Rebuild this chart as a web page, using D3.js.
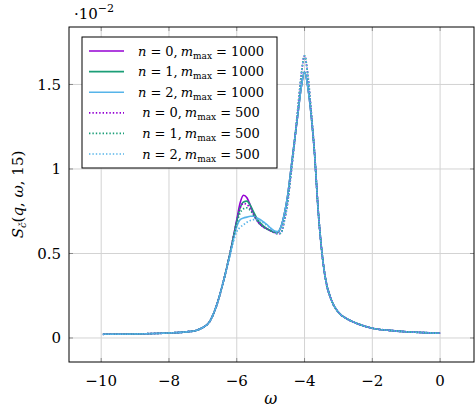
<!DOCTYPE html>
<html><head><meta charset="utf-8">
<script src="https://cdn.jsdelivr.net/npm/d3@7"></script>
<style>
body{margin:0;background:#fff;}
svg text{font-family:"DejaVu Serif","Liberation Serif",serif;fill:#000;}
</style></head>
<body><svg id="c" width="475" height="411"></svg>
<script>
const omega = [-9.95,-9,-8,-7.5,-7.2,-7.0,-6.8,-6.6,-6.4,-6.2,-6.0,-5.9,-5.8,-5.7,-5.6,-5.5,-5.4,-5.3,-5.2,-5.1,-5.0,-4.9,-4.8,-4.7,-4.6,-4.5,-4.4,-4.3,-4.2,-4.1,-4.0,-3.9,-3.8,-3.7,-3.6,-3.5,-3.4,-3.2,-3.0,-2.7,-2.4,-2.0,-1.5,-1.0,-0.5,0];
const n0_m1000 = [0.022,0.024,0.030,0.036,0.045,0.062,0.097,0.19,0.33,0.50,0.70,0.80,0.845,0.83,0.785,0.735,0.695,0.67,0.655,0.645,0.635,0.625,0.625,0.655,0.73,0.84,1.0,1.16,1.32,1.48,1.575,1.48,1.31,1.08,0.76,0.53,0.37,0.22,0.152,0.108,0.082,0.058,0.045,0.037,0.032,0.028];
const n1_m1000 = [0.022,0.024,0.030,0.036,0.045,0.062,0.097,0.19,0.33,0.50,0.69,0.77,0.805,0.81,0.785,0.745,0.705,0.68,0.66,0.645,0.635,0.627,0.627,0.655,0.73,0.84,1.0,1.16,1.32,1.48,1.575,1.48,1.31,1.08,0.76,0.53,0.37,0.22,0.152,0.108,0.082,0.058,0.045,0.037,0.032,0.028];
const n2_m1000 = [0.022,0.024,0.030,0.036,0.045,0.062,0.097,0.19,0.33,0.49,0.66,0.70,0.71,0.715,0.72,0.72,0.71,0.70,0.685,0.67,0.65,0.635,0.63,0.655,0.73,0.84,1.0,1.16,1.32,1.48,1.575,1.48,1.31,1.08,0.76,0.53,0.37,0.22,0.152,0.108,0.082,0.058,0.045,0.037,0.032,0.028];
const n0_m500 = [0.022,0.024,0.030,0.036,0.045,0.062,0.097,0.19,0.33,0.50,0.69,0.77,0.795,0.79,0.765,0.73,0.695,0.67,0.655,0.645,0.635,0.625,0.617,0.62,0.69,0.80,0.97,1.15,1.35,1.55,1.67,1.55,1.33,1.08,0.76,0.53,0.37,0.22,0.152,0.108,0.082,0.058,0.045,0.037,0.032,0.028];
const n1_m500 = [0.022,0.024,0.030,0.036,0.045,0.062,0.097,0.19,0.33,0.50,0.68,0.74,0.765,0.77,0.755,0.725,0.695,0.67,0.655,0.645,0.635,0.625,0.617,0.62,0.69,0.80,0.97,1.15,1.35,1.55,1.67,1.55,1.33,1.08,0.76,0.53,0.37,0.22,0.152,0.108,0.082,0.058,0.045,0.037,0.032,0.028];
const n2_m500 = [0.022,0.024,0.030,0.036,0.045,0.062,0.097,0.19,0.33,0.49,0.63,0.655,0.67,0.685,0.695,0.70,0.70,0.69,0.68,0.665,0.648,0.632,0.62,0.62,0.69,0.80,0.97,1.15,1.35,1.55,1.67,1.55,1.33,1.08,0.76,0.53,0.37,0.22,0.152,0.108,0.082,0.058,0.045,0.037,0.032,0.028];
const seriesN = ["0","1","2","0","1","2"];
const seriesM = ["1000","1000","1000","500","500","500"];
const xTicks = [-10,-8,-6,-4,-2,0];
const yTicks = [0,0.5,1,1.5];
const yTickLabels = ["0","0.5","1","1.5"];

const colors = ["#9400d3","#1b9e77","#56b4e9","#9400d3","#1b9e77","#56b4e9"];
const dotted = [false,false,false,true,true,true];
const allSeries = [n0_m1000,n1_m1000,n2_m1000,n0_m500,n1_m500,n2_m500];

const L=69, R=474, T=27, B=362;
const svg = d3.select("#c");
const x = d3.scaleLinear().domain([-10.95,1.0]).range([L,R]);
const y = d3.scaleLinear().domain([-0.142,1.84]).range([B,T]);

// grid
svg.append("g").selectAll("line").data(xTicks).join("line")
  .attr("x1",d=>x(d)).attr("x2",d=>x(d)).attr("y1",T).attr("y2",B)
  .attr("stroke","#d3d3d3").attr("stroke-width",1);
svg.append("g").selectAll("line").data(yTicks).join("line")
  .attr("y1",d=>y(d)).attr("y2",d=>y(d)).attr("x1",L).attr("x2",R)
  .attr("stroke","#d3d3d3").attr("stroke-width",1);

// tick marks (inside)
const tk = svg.append("g").attr("stroke","#777").attr("stroke-width",0.8);
xTicks.forEach(d=>{
  tk.append("line").attr("x1",x(d)).attr("x2",x(d)).attr("y1",B).attr("y2",B-4);
  tk.append("line").attr("x1",x(d)).attr("x2",x(d)).attr("y1",T).attr("y2",T+4);
});
yTicks.forEach(d=>{
  tk.append("line").attr("y1",y(d)).attr("y2",y(d)).attr("x1",L).attr("x2",L+4);
  tk.append("line").attr("y1",y(d)).attr("y2",y(d)).attr("x1",R).attr("x2",R-4);
});

// lines
svg.append("clipPath").attr("id","pc").append("rect")
  .attr("x",L).attr("y",T).attr("width",R-L).attr("height",B-T);
const line = d3.line().x((d,i)=>x(omega[i])).y(d=>y(d)).curve(d3.curveMonotoneX);
const lg = svg.append("g").attr("clip-path","url(#pc)");
allSeries.forEach((s,i)=>{
  lg.append("path").attr("d",line(s)).attr("fill","none")
    .attr("stroke",colors[i]).attr("stroke-width",dotted[i]?1.7:1.6)
    .attr("stroke-dasharray",dotted[i]?"1.4,2":null)
    .attr("stroke-linejoin","round");
});

// frame
svg.append("rect").attr("x",L).attr("y",T).attr("width",R-L).attr("height",B-T)
  .attr("fill","none").attr("stroke","#000").attr("stroke-width",1);

// tick labels
svg.append("g").selectAll("text").data(xTicks).join("text")
  .attr("x",d=>x(d)).attr("y",B+24).attr("text-anchor","middle")
  .attr("font-size",15).text(d=>d<0?"\u2212"+Math.abs(d):String(d));
svg.append("g").selectAll("text").data(yTicks).join("text")
  .attr("x",L-8).attr("y",d=>y(d)+5.5).attr("text-anchor","end")
  .attr("font-size",15).text((d,i)=>yTickLabels[i]);

// scale factor
const sf = svg.append("text").attr("x",74).attr("y",19).attr("font-size",15);
sf.append("tspan").text("\u00b710");
sf.append("tspan").attr("dy",-7).attr("font-size",11).text("\u22122");

// axis labels
svg.append("text").attr("x",x(-5)).attr("y",404).attr("text-anchor","middle")
  .attr("font-size",16).attr("font-style","italic").text("\u03c9");
const yl = svg.append("text").attr("transform","translate(23,"+((T+B)/2)+") rotate(-90)")
  .attr("text-anchor","middle").attr("font-size",15);
yl.append("tspan").attr("font-style","italic").text("S");
yl.append("tspan").attr("font-style","italic").attr("font-size",10).attr("dy",3).text("\u010d");
yl.append("tspan").attr("dy",-3).text("(");
yl.append("tspan").attr("font-style","italic").text("q");
yl.append("tspan").text(", ");
yl.append("tspan").attr("font-style","italic").text("\u03c9");
yl.append("tspan").text(", 15)");

// legend
const lx=82, ly=37, lw=195, lh=131;
svg.append("rect").attr("x",lx).attr("y",ly).attr("width",lw).attr("height",lh)
  .attr("fill","#fff").attr("stroke","#000").attr("stroke-width",1);
seriesN.forEach((n,i)=>{
  const yy = ly+14+i*20.6;
  svg.append("line").attr("x1",89).attr("x2",124).attr("y1",yy).attr("y2",yy)
    .attr("stroke",colors[i]).attr("stroke-width",dotted[i]?1.7:1.6)
    .attr("stroke-dasharray",dotted[i]?"1.4,2":null);
  const t = svg.append("text").attr("x",201).attr("y",yy+4.5).attr("text-anchor","middle").attr("font-size",13);
  t.append("tspan").attr("font-style","italic").text("n");
  t.append("tspan").attr("dx",4).text("=");
  t.append("tspan").attr("dx",4).text(n+",");
  t.append("tspan").attr("dx",3).attr("font-style","italic").text("m");
  t.append("tspan").attr("font-size",9).attr("dy",3).text("max");
  t.append("tspan").attr("dy",-3).attr("dx",4).text("=");
  t.append("tspan").attr("dx",4).text(seriesM[i]);
});
</script></body></html>
